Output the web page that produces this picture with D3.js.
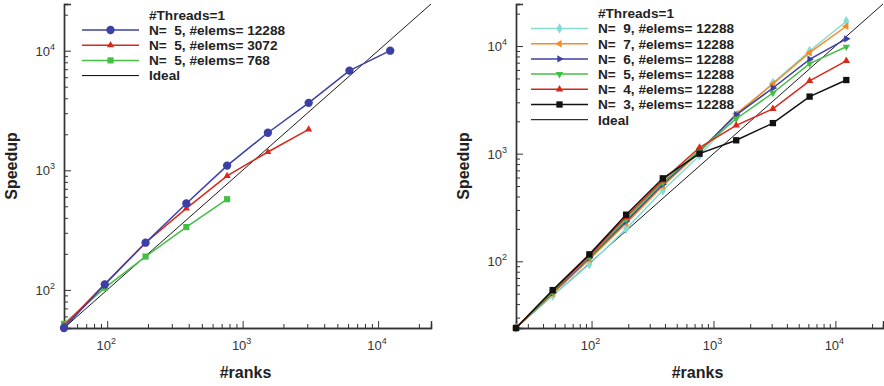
<!DOCTYPE html>
<html>
<head>
<meta charset="utf-8">
<script src="https://cdn.jsdelivr.net/npm/d3@7"></script>
<style>
  body { margin: 0; background: #fff; }
  svg { font-family: "Liberation Sans", Arial, sans-serif; }
  svg text { white-space: pre; }
  .axis path, .axis line { stroke: #333; }
  .title { font-weight: bold; font-size: 16px; fill: #222; }
  .legend text { font-weight: bold; font-size: 13.6px; fill: #222; }
  .ticklab { font-size: 13px; fill: #333; }
</style>
</head>
<body>
<div class="chart"></div>
<script>
// left panel: 1 thread, N=5, different element counts
const ranksLeft = [48, 96, 192, 384, 768, 1536, 3072, 6144, 12288]
const elems12288 = [48, 111, 248, 528, 1094, 2061, 3664, 6813, 10000]
const elems3072 = [50, 112, 248, 480, 897, 1422, 2196]
const elems768 = [52, 104, 190, 335, 573]

// right panel: 1 thread, 12288 elems, different N
const ranksRight = [24, 48, 96, 192, 384, 768, 1536, 3072, 6144, 12288]
const order9 = [24, 48, 94, 200, 454, 960, 2250, 4530, 8990, 16990]
const order7 = [24, 50, 104, 225, 500, 1030, 2344, 4440, 8670, 15270]
const order6 = [24, 51, 108, 235, 520, 1060, 2296, 4075, 7530, 11660]
const order5 = [24, 52, 110, 245, 540, 1080, 2110, 3660, 6870, 9840]
const order4 = [24, 53, 113, 258, 565, 1140, 1832, 2610, 4750, 7280]
const order3 = [24, 54, 116, 271, 590, 1000, 1331, 1923, 3390, 4830]

const legendTitle = "#Threads=1"

const width = 884, height = 386

const svg = d3.select(".chart").append("svg")
  .attr("width", width)
  .attr("height", height)

const panels = [
  {
    domain: [48, 24576], x: [64, 431], y: [328, 4],
    ranks: ranksLeft,
    legendX: 82, legendY: 30,
    series: [
      {label: "N=  5, #elems= 12288", values: elems12288, color: "#3c3fa5", symbol: d3.symbolCircle, size: 54, rot: 0},
      {label: "N=  5, #elems= 3072", values: elems3072, color: "#d8281c", symbol: d3.symbolTriangle, size: 22, rot: 0},
      {label: "N=  5, #elems= 768", values: elems768, color: "#44bf44", symbol: d3.symbolSquare, size: 38, rot: 0}
    ],
    drawOrder: [2, 1, 0]
  },
  {
    domain: [24, 24576], x: [516, 883], y: [328, 4],
    ranks: ranksRight,
    legendX: 531, legendY: 28.5,
    series: [
      {label: "N=  9, #elems= 12288", values: order9, color: "#84dcd4", symbol: d3.symbolDiamond, size: 32, rot: 0},
      {label: "N=  7, #elems= 12288", values: order7, color: "#f58b25", symbol: d3.symbolTriangle, size: 24, rot: -90},
      {label: "N=  6, #elems= 12288", values: order6, color: "#3c3fa5", symbol: d3.symbolTriangle, size: 24, rot: 90},
      {label: "N=  5, #elems= 12288", values: order5, color: "#44bf44", symbol: d3.symbolTriangle, size: 24, rot: 180},
      {label: "N=  4, #elems= 12288", values: order4, color: "#d8281c", symbol: d3.symbolTriangle, size: 24, rot: 0},
      {label: "N=  3, #elems= 12288", values: order3, color: "#111111", symbol: d3.symbolSquare, size: 40, rot: 0}
    ],
    drawOrder: [0, 1, 2, 3, 4, 5]
  }
]

panels.forEach(p => {
  const xScale = d3.scaleLog().domain(p.domain).range(p.x)
  const yScale = d3.scaleLog().domain(p.domain).range(p.y)

  const g = svg.append("g")

  // ticks: decades and minor ones inside the domain
  const major = [], minor = []
  for (let e = 1; e <= 5; e++) {
    for (let m = 1; m <= 9; m++) {
      const v = m * Math.pow(10, e)
      if (v < p.domain[0] || v > p.domain[1]) continue
      if (m === 1) major.push(v); else minor.push(v)
    }
  }

  const x0 = p.x[0], yb = p.y[0]

  g.append("g").attr("class", "axis")
    .attr("transform", "translate(0," + yb + ")")
    .call(d3.axisBottom(xScale).tickValues(minor).tickSize(-4).tickFormat(""))
  g.append("g").attr("class", "axis")
    .attr("transform", "translate(0," + yb + ")")
    .call(d3.axisBottom(xScale).tickValues(major).tickSize(-7).tickFormat(""))
  g.append("g").attr("class", "axis")
    .attr("transform", "translate(" + x0 + ",0)")
    .call(d3.axisLeft(yScale).tickValues(minor).tickSize(-4).tickFormat(""))
  g.append("g").attr("class", "axis")
    .attr("transform", "translate(" + x0 + ",0)")
    .call(d3.axisLeft(yScale).tickValues(major).tickSize(-7).tickFormat(""))

  g.selectAll(".axis path").attr("stroke-width", 1.4).attr("stroke", "#333")
  g.selectAll(".axis line").attr("stroke-width", 1)

  // tick labels 10^k
  major.forEach(v => {
    const k = Math.round(Math.log10(v))
    const tx = g.append("text").attr("class", "ticklab")
      .attr("x", xScale(v) - 1).attr("y", yb + 22)
      .attr("text-anchor", "middle")
    tx.append("tspan").text("10")
    tx.append("tspan").attr("dy", -6).attr("font-size", 9).text(k)

    const ty = g.append("text").attr("class", "ticklab")
      .attr("x", x0 - 9).attr("y", yScale(v) + 5)
      .attr("text-anchor", "end")
    ty.append("tspan").text("10")
    ty.append("tspan").attr("dy", -6).attr("font-size", 9).text(k)
  })

  // axis titles
  g.append("text").attr("class", "title")
    .attr("text-anchor", "middle")
    .attr("transform", "translate(" + (x0 - 47) + "," + 166 + ") rotate(-90)")
    .text("Speedup")
  g.append("text").attr("class", "title")
    .attr("text-anchor", "middle")
    .attr("x", (p.x[0] + p.x[1]) / 2 - 2)
    .attr("y", 378)
    .text("#ranks")

  // ideal line
  g.append("line")
    .attr("x1", xScale(p.domain[0])).attr("y1", yScale(p.domain[0]))
    .attr("x2", xScale(p.domain[1])).attr("y2", yScale(p.domain[1]))
    .attr("stroke", "#000").attr("stroke-width", 0.9)

  const line = d3.line()
    .x(d => xScale(d.r))
    .y(d => yScale(d.v))

  p.drawOrder.forEach(i => {
    const s = p.series[i]
    const pts = s.values.map((v, j) => ({r: p.ranks[j], v: v}))
    g.append("path")
      .attr("d", line(pts))
      .attr("fill", "none")
      .attr("stroke", s.color)
      .attr("stroke-width", 1.5)
    g.selectAll(null).data(pts).enter().append("path")
      .attr("d", d3.symbol().type(s.symbol).size(s.size))
      .attr("transform", d => "translate(" + xScale(d.r) + "," + yScale(d.v) + ") rotate(" + s.rot + ")")
      .attr("fill", s.color)
  })

  // legend
  const lg = g.append("g").attr("class", "legend")
  const step = 15.2
  const textX = p.legendX + 67
  lg.append("text").attr("x", textX).attr("y", p.legendY - step + 4.8).text(legendTitle)
  const items = p.series.concat([{label: "Ideal", color: "#000", ideal: true}])
  items.forEach((s, i) => {
    const yy = p.legendY + i * step
    lg.append("line")
      .attr("x1", p.legendX).attr("x2", p.legendX + 57)
      .attr("y1", yy).attr("y2", yy)
      .attr("stroke", s.color)
      .attr("stroke-width", s.ideal ? 1 : 1.5)
    if (!s.ideal) {
      lg.append("path")
        .attr("d", d3.symbol().type(s.symbol).size(s.size)())
        .attr("transform", "translate(" + (p.legendX + 28.5) + "," + yy + ") rotate(" + s.rot + ")")
        .attr("fill", s.color)
    }
    lg.append("text").attr("x", textX).attr("y", yy + 4.8).text(s.label)
  })
})
</script>
</body>
</html>
